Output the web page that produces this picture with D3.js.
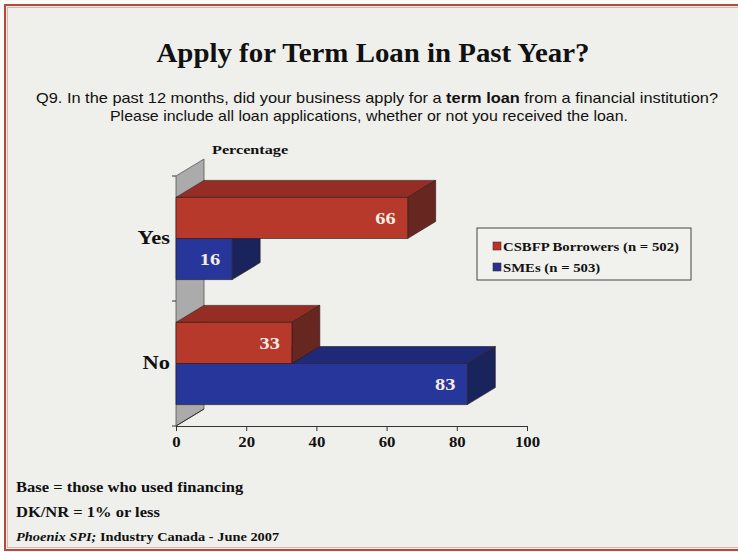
<!DOCTYPE html>
<html>
<head>
<meta charset="utf-8">
<script src="https://cdn.jsdelivr.net/npm/d3@7"></script>
<style>
  html, body { margin: 0; padding: 0; background: #ffffff; }
  svg { display: block; }
  .serif { font-family: "Liberation Serif", "Times New Roman", serif; font-weight: bold; }
</style>
</head>
<body>
<svg id="chart" width="738" height="552"></svg>
<script>
// Survey answers, percent of respondents
const categories = ["Yes", "No"];
const series = ["CSBFP Borrowers (n = 502)", "SMEs (n = 503)"];
const borrowers = [66, 33];
const smes = [16, 83];
const xTicks = [0, 20, 40, 60, 80, 100];

const title = "Apply for Term Loan in Past Year?";
const question = [
  ["Q9. In the past 12 months, did your business apply for a ", "term loan", " from a financial institution?"],
  ["Please include all loan applications, whether or not you received the loan.", "", ""]
];
const notes = ["Base = those who used financing", "DK/NR = 1% or less"];

const palette = {
  [series[0]]: { front: "#b6392c", top: "#962d25", side: "#672620", key: "#c0302a" },
  [series[1]]: { front: "#27369a", top: "#1e2a78", side: "#19235c", key: "#2a2f90" }
};

const svg = d3.select("#chart");
const W = 738, H = 552;

// bold serif labels are set slightly wide
const WIDE = 1.2;
function place(sel, x, y, sx = WIDE) {
  return sel.attr("x", 0).attr("y", 0)
    .attr("transform", `translate(${x},${y}) scale(${sx},1)`);
}

// page background and frame
svg.append("rect").attr("width", W).attr("height", H).attr("fill", "#fbfbf8");
svg.append("rect").attr("x", 5).attr("y", 5).attr("width", W + 10).attr("height", H - 7)
  .attr("fill", "#efefeb").attr("stroke", "#b8483c").attr("stroke-width", 2);
svg.append("rect").attr("x", 7.5).attr("y", 7.5).attr("width", W + 10).attr("height", H - 12)
  .attr("fill", "none").attr("stroke", "#eab0a4").attr("stroke-width", 1);

// headings
svg.append("text").attr("class", "serif").attr("x", 373).attr("y", 62)
  .attr("text-anchor", "middle").attr("font-size", 28).attr("fill", "#111")
  .attr("textLength", 433).attr("lengthAdjust", "spacingAndGlyphs")
  .text(title);

const qText = svg.append("g")
  .attr("font-family", "'Liberation Sans Narrow', 'Arial Narrow', 'Liberation Sans', Arial, sans-serif")
  .attr("font-size", 15).attr("fill", "#111");
const qLines = [{ y: 103, x: 36, len: 682 }, { y: 121, x: 110, len: 518 }];
question.forEach((parts, i) => {
  const t = qText.append("text").attr("x", qLines[i].x).attr("y", qLines[i].y)
    .attr("textLength", qLines[i].len).attr("lengthAdjust", "spacingAndGlyphs");
  t.append("tspan").text(parts[0]);
  if (parts[1]) t.append("tspan").attr("font-weight", "bold").text(parts[1]);
  if (parts[2]) t.append("tspan").text(parts[2]);
});

// scales
const x = d3.scaleLinear().domain([0, 100]).range([176, 527]);
const y = d3.scaleBand().domain(categories).range([176, 426]);
const yInner = d3.scaleBand().domain(series).range([0, y.bandwidth()])
  .paddingInner(0).paddingOuter(0.52);
const depth = { dx: 28, dy: -17 };

const rows = [];
categories.forEach((c, i) => {
  rows.push({ cat: c, s: series[0], v: borrowers[i] });
  rows.push({ cat: c, s: series[1], v: smes[i] });
});

// back wall
const [y0, y1] = y.range();
const wall = svg.append("g");
wall.append("path")
  .attr("d", d3.line()([[x(0), y0], [x(0) + depth.dx, y0 + depth.dy],
                        [x(0) + depth.dx, y1 + depth.dy], [x(0), y1]]) + "Z")
  .attr("fill", "#ababab").attr("stroke", "#555").attr("stroke-width", 0.8);

// category boundary ticks on the left edge
const bounds = [y0, ...categories.slice(1).map(c => y(c)), y1];
wall.selectAll("line.cb").data(bounds).join("line")
  .attr("x1", x(0) - 4).attr("x2", x(0)).attr("y1", d => d).attr("y2", d => d)
  .attr("stroke", "#333").attr("stroke-width", 1);

// bars: drawn bottom-up so upper bars cover the hidden faces below them
const bars = svg.append("g");
const ordered = rows.slice().sort((a, b) =>
  (y(b.cat) + yInner(b.s)) - (y(a.cat) + yInner(a.s)));
ordered.forEach(d => {
  const col = palette[d.s];
  const top = y(d.cat) + yInner(d.s);
  const h = yInner.bandwidth();
  const xl = x(0), xr = x(d.v);
  const g = bars.append("g").attr("stroke", "#2a1a16").attr("stroke-width", 0.6)
    .attr("stroke-linejoin", "round");
  g.append("path").attr("fill", col.top)
    .attr("d", d3.line()([[xl, top], [xl + depth.dx, top + depth.dy],
                          [xr + depth.dx, top + depth.dy], [xr, top]]) + "Z");
  g.append("path").attr("fill", col.side)
    .attr("d", d3.line()([[xr, top], [xr + depth.dx, top + depth.dy],
                          [xr + depth.dx, top + h + depth.dy], [xr, top + h]]) + "Z");
  g.append("rect").attr("fill", col.front)
    .attr("x", xl).attr("y", top).attr("width", xr - xl).attr("height", h);
  place(bars.append("text").attr("class", "serif"), xr - 12, top + h / 2)
    .attr("dy", "0.35em").attr("text-anchor", "end").attr("font-size", 17)
    .attr("fill", "#f4ede2").text(d.v);
});

// wall floor edge
svg.append("line")
  .attr("x1", x(0)).attr("y1", y1).attr("x2", x(0) + depth.dx).attr("y2", y1 + depth.dy)
  .attr("stroke", "#333").attr("stroke-width", 1);

// value axis
const xAxis = svg.append("g").attr("transform", `translate(0,${y1})`)
  .call(d3.axisBottom(x).tickValues(xTicks).tickSize(5).tickSizeOuter(0).tickPadding(6));
xAxis.select(".domain").attr("stroke", "#333");
xAxis.selectAll(".tick line").attr("stroke", "#333");
xAxis.selectAll(".tick text").attr("class", "serif").attr("font-size", 14).attr("fill", "#111")
  .attr("transform", `scale(${WIDE},1)`);

// category axis labels
const yAxis = svg.append("g").attr("transform", `translate(${x(0) - 6},0)`)
  .call(d3.axisLeft(y).tickSize(0).tickPadding(0));
yAxis.select(".domain").remove();
yAxis.selectAll(".tick text").attr("class", "serif").attr("font-size", 18).attr("fill", "#111")
  .attr("transform", "scale(1.25,1)");

place(svg.append("text").attr("class", "serif"), 212, 154)
  .attr("font-size", 13.5).attr("fill", "#111").text("Percentage");

// legend
const legend = svg.append("g").attr("transform", "translate(477,228)");
legend.append("rect").attr("width", 214).attr("height", 52)
  .attr("fill", "#f1f1ed").attr("stroke", "#444").attr("stroke-width", 1);
series.forEach((s, i) => {
  const row = legend.append("g").attr("transform", `translate(16,${19 + i * 21})`);
  row.append("rect").attr("x", 0).attr("y", -5).attr("width", 8).attr("height", 8)
    .attr("fill", palette[s].key).attr("stroke", "#333").attr("stroke-width", 0.6);
  place(row.append("text").attr("class", "serif"), 10, 0, 1.18).attr("dy", "0.33em")
    .attr("font-size", 12.5).attr("fill", "#111").text(s);
});

// notes and source
notes.forEach((n, i) => {
  place(svg.append("text").attr("class", "serif"), 16, 492 + i * 25, 1.18)
    .attr("font-size", 14).attr("fill", "#111").text(n);
});
const src = place(svg.append("text").attr("class", "serif"), 16, 541)
  .attr("font-size", 12).attr("fill", "#111");
src.append("tspan").attr("font-style", "italic").text("Phoenix SPI;");
src.append("tspan").text(" Industry Canada - June 2007");
</script>
</body>
</html>
